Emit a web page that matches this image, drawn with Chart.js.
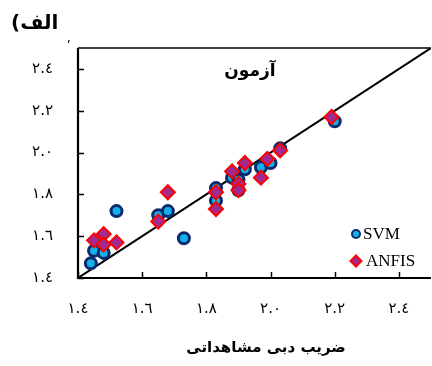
<!DOCTYPE html>
<html>
<head>
<meta charset="utf-8">
<script src="https://cdn.jsdelivr.net/npm/chart.js@4/dist/chart.umd.min.js"></script>
<style>
  html, body { margin: 0; padding: 0; background: #fff; overflow: hidden; width: 432px; height: 366px; }
  canvas { display: block; }
</style>
</head>
<body>
<canvas id="chart" width="440" height="366"></canvas>
<script>
// Observed vs. predicted discharge coefficient (test set)
const svmObserved  = [1.44, 1.45, 1.48, 1.52, 1.65, 1.68, 1.73, 1.83, 1.83, 1.88, 1.90, 1.90, 1.92, 1.97, 2.00, 2.03, 2.20];
const svmPredicted = [1.47, 1.53, 1.52, 1.72, 1.70, 1.72, 1.59, 1.83, 1.77, 1.88, 1.87, 1.82, 1.92, 1.93, 1.95, 2.02, 2.15];
const anfisObserved  = [1.45, 1.48, 1.48, 1.52, 1.65, 1.68, 1.83, 1.83, 1.88, 1.90, 1.90, 1.92, 1.97, 1.99, 2.03, 2.19];
const anfisPredicted = [1.58, 1.61, 1.56, 1.57, 1.67, 1.81, 1.81, 1.73, 1.91, 1.85, 1.82, 1.95, 1.88, 1.97, 2.01, 2.17];
const seriesNames = ['SVM', 'ANFIS'];
const tickValues = [1.4, 1.6, 1.8, 2.0, 2.2, 2.4];
const tickLabels = ['١.٤', '١.٦', '١.٨', '٢.٠', '٢.٢', '٢.٤'];
const axisRange = [1.4, 2.5];
const panelLabel = 'الف';
const stageLabel = 'آزمون';
const xTitle = 'ضریب دبی مشاهداتی';

const toPoints = (xs, ys) => xs.map((x, i) => ({ x, y: ys[i] }));

const svmStyle = { fill: '#12b1ea', stroke: '#0b2b6c' };
const anfisStyle = { fill: '#a02a92', stroke: '#ff0000' };

function diamond(ctx, x, y, r) {
  ctx.beginPath();
  ctx.moveTo(x, y - r);
  ctx.lineTo(x + r, y);
  ctx.lineTo(x, y + r);
  ctx.lineTo(x - r, y);
  ctx.closePath();
}

// Axes with inward ticks, top frame line and the annotation texts
const framePlugin = {
  id: 'frame',
  beforeDatasetsDraw(chart) {
    const { ctx, chartArea: a, scales: { x, y } } = chart;
    ctx.save();
    ctx.strokeStyle = '#000';
    ctx.lineCap = 'butt';
    // top frame
    ctx.lineWidth = 1.5;
    ctx.beginPath();
    ctx.moveTo(a.left, a.top);
    ctx.lineTo(a.right, a.top);
    ctx.stroke();
    // axis lines
    ctx.lineWidth = 2.2;
    ctx.beginPath();
    ctx.moveTo(a.left, a.top);
    ctx.lineTo(a.left, a.bottom);
    ctx.lineTo(a.right, a.bottom);
    ctx.stroke();
    // inward tick marks
    ctx.lineWidth = 1.5;
    ctx.beginPath();
    y.ticks.forEach(t => {
      const py = Math.round(y.getPixelForValue(t.value)) + 0.5;
      ctx.moveTo(a.left, py);
      ctx.lineTo(a.left + 6, py);
    });
    x.ticks.forEach(t => {
      const px = Math.round(x.getPixelForValue(t.value)) + 0.5;
      ctx.moveTo(px, a.bottom);
      ctx.lineTo(px, a.bottom - 6);
    });
    ctx.stroke();
    ctx.restore();
  },
  afterDraw(chart) {
    const { ctx } = chart;
    ctx.save();
    ctx.direction = 'ltr';
    ctx.fillStyle = '#000';
    ctx.textBaseline = 'middle';
    // panel label: opening bracket on the left, word after it
    ctx.font = 'bold 20px "DejaVu Sans"';
    ctx.textAlign = 'left';
    ctx.fillText('(', 11, 24);
    ctx.fillText(panelLabel, 11 + ctx.measureText('(').width, 24);
    // small mark beside the top of the y axis
    ctx.font = 'bold 12px "DejaVu Sans"';
    ctx.fillText('ʹ', 67, 47);
    // stage label inside the plot
    ctx.font = 'bold 17px "DejaVu Sans"';
    ctx.textAlign = 'center';
    ctx.fillText(stageLabel, 250, 72);
    // x axis title
    ctx.font = 'bold 15px "DejaVu Sans"';
    ctx.fillText(xTitle, 266, 348);

    // legend
    const lx = 356;
    const rows = [234, 261];
    ctx.lineWidth = 2;
    ctx.beginPath();
    ctx.arc(lx, rows[0], 4, 0, Math.PI * 2);
    ctx.fillStyle = svmStyle.fill;
    ctx.fill();
    ctx.strokeStyle = svmStyle.stroke;
    ctx.stroke();
    diamond(ctx, lx, rows[1], 5.5);
    ctx.fillStyle = anfisStyle.fill;
    ctx.fill();
    ctx.strokeStyle = anfisStyle.stroke;
    ctx.stroke();
    ctx.fillStyle = '#000';
    ctx.textAlign = 'left';
    ctx.font = '17px "Liberation Serif"';
    ctx.fillText(seriesNames[0], 363, rows[0] + 1);
    ctx.fillText(seriesNames[1], 366, rows[1] + 1);
    ctx.restore();
  }
};

const fixedTicks = scale => { scale.ticks = tickValues.map(v => ({ value: v })); };

new Chart(document.getElementById('chart'), {
  data: {
    datasets: [
      {
        type: 'scatter',
        label: seriesNames[0],
        data: toPoints(svmObserved, svmPredicted),
        pointStyle: 'circle',
        pointRadius: 5.5,
        pointHoverRadius: 5.5,
        backgroundColor: svmStyle.fill,
        borderColor: svmStyle.stroke,
        borderWidth: 3,
        order: 2
      },
      {
        type: 'scatter',
        label: seriesNames[1],
        data: toPoints(anfisObserved, anfisPredicted),
        pointStyle: 'rectRot',
        pointRadius: 7,
        pointHoverRadius: 7,
        backgroundColor: anfisStyle.fill,
        borderColor: anfisStyle.stroke,
        borderWidth: 2,
        order: 1
      },
      {
        type: 'line',
        label: 'y = x',
        data: [{ x: axisRange[0], y: axisRange[0] }, { x: axisRange[1], y: axisRange[1] }],
        borderColor: '#000',
        borderWidth: 2,
        pointRadius: 0,
        fill: false,
        order: 3
      }
    ]
  },
  options: {
    responsive: false,
    animation: false,
    devicePixelRatio: 1,
    layout: { padding: { top: 48, right: 0, left: 0, bottom: 0 } },
    plugins: { legend: { display: false }, tooltip: { enabled: false } },
    scales: {
      x: {
        type: 'linear',
        min: axisRange[0],
        max: axisRange[1],
        afterBuildTicks: fixedTicks,
        afterFit: s => { s.height = 88; },
        grid: { display: false, drawTicks: false },
        border: { display: false },
        ticks: {
          padding: 22,
          color: '#000',
          font: { family: '"DejaVu Sans"', size: 15 },
          callback: (v, i) => tickLabels[i]
        }
      },
      y: {
        type: 'linear',
        min: axisRange[0],
        max: axisRange[1],
        afterBuildTicks: fixedTicks,
        afterFit: s => { s.width = 78; },
        grid: { display: false, drawTicks: false },
        border: { display: false },
        ticks: {
          padding: 25,
          color: '#000',
          font: { family: '"DejaVu Sans"', size: 15 },
          callback: (v, i) => tickLabels[i]
        }
      }
    }
  },
  plugins: [framePlugin]
});
</script>
</body>
</html>
